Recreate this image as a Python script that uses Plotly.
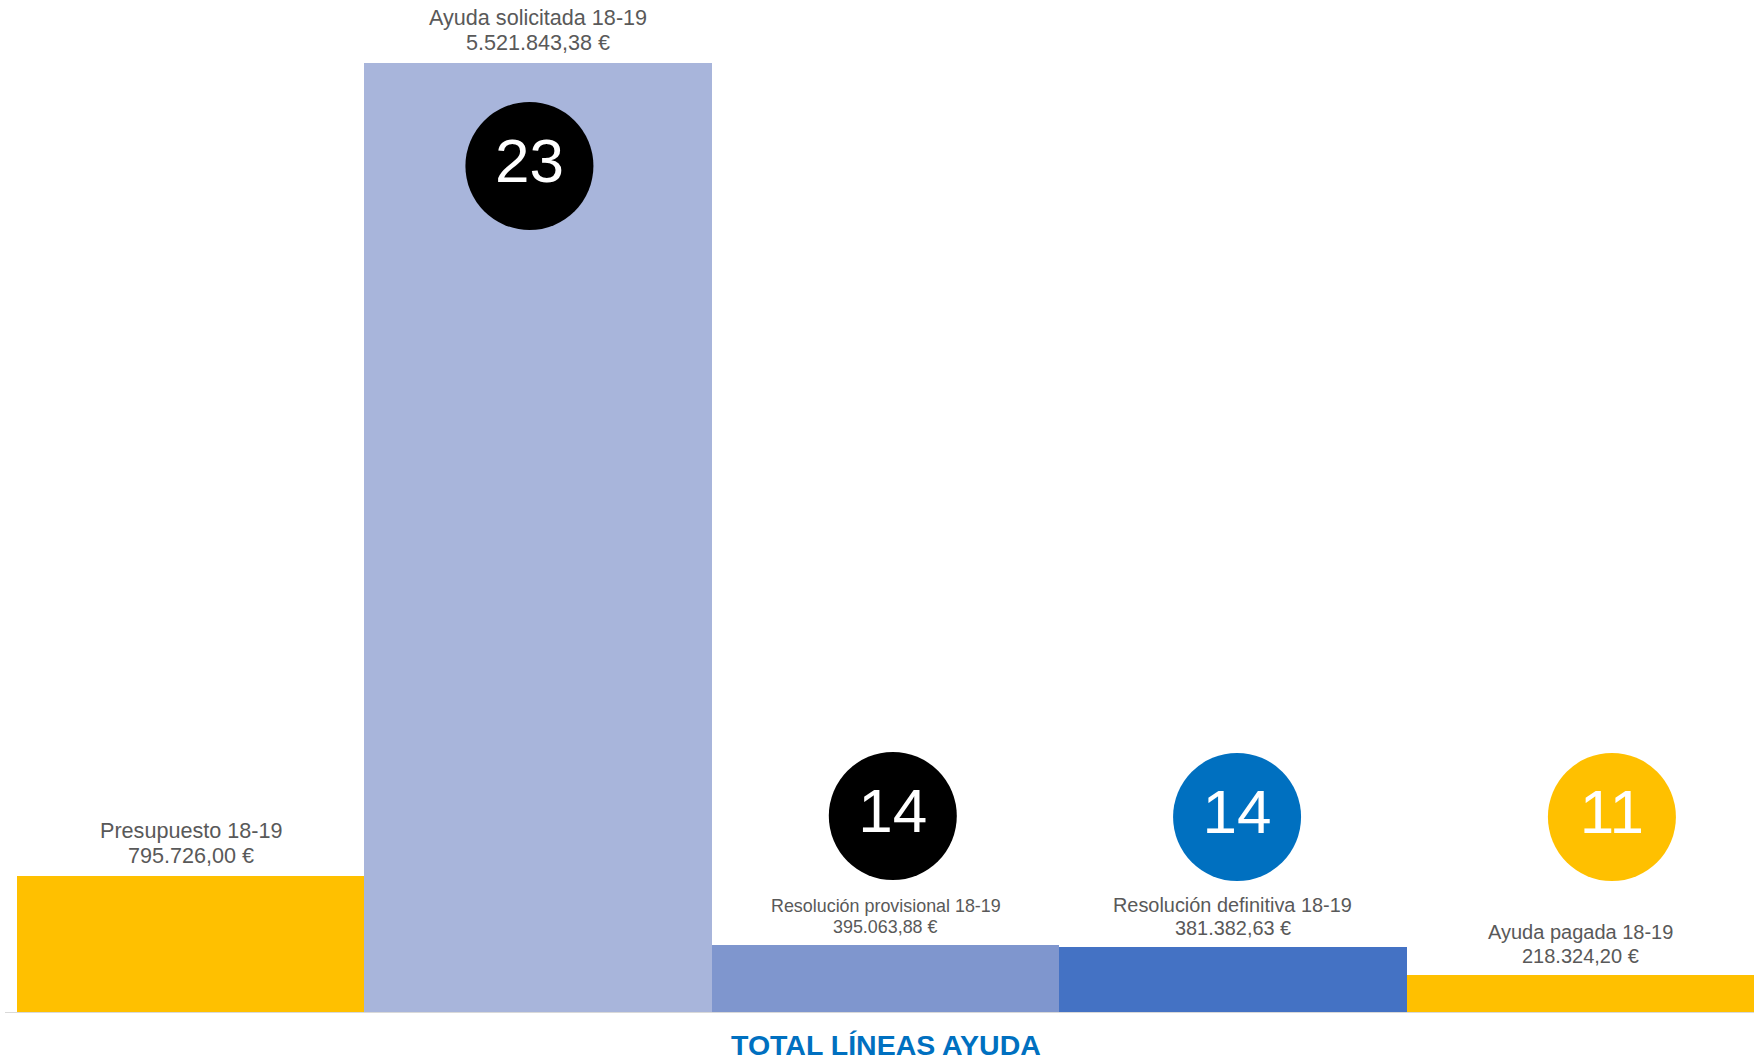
import plotly.graph_objects as go

# data
categories = ["Presupuesto 18-19", "Ayuda solicitada 18-19", "Resolución provisional 18-19",
              "Resolución definitiva 18-19", "Ayuda pagada 18-19"]
amounts = [795726.00, 5521843.38, 395063.88, 381382.63, 218324.20]
line_counts = [None, 23, 14, 14, 11]
axis_title = "TOTAL LÍNEAS AYUDA"

# styling
bar_colors = ["#FFC000", "#A8B5DB", "#7F96CE", "#4472C4", "#FFC000"]
circle_colors = [None, "#000000", "#000000", "#0070C0", "#FFC000"]
label_sizes = [21.6, 21.6, 17.9, 19.9, 20]
circle_dx = [0, -0.025, 0.021, 0.012, 0.091]   # offset from bar centre (bar widths)
circle_py = [None, 166, 816, 817, 817]          # circle centre, px from top
FONT = "Liberation Sans, Arial, sans-serif"

W, H = 1754, 1061
ML, MB = 17, 48
plot_h = H - MB
top_px = 63  # top of tallest bar
y_max = max(amounts) * plot_h / (plot_h - top_px)


def euro(v):
    s = f"{v:,.2f}".replace(",", "X").replace(".", ",").replace("X", ".")
    return s + " €"


xs = list(range(len(categories)))

fig = go.Figure()
fig.add_trace(go.Bar(
    x=xs, y=amounts, width=1,
    marker=dict(color=bar_colors, line=dict(width=0)),
    hoverinfo="skip", showlegend=False,
))

# numbered circles
cx, cy, ct, cc = [], [], [], []
for i, n in enumerate(line_counts):
    if n is None:
        continue
    cx.append(i + circle_dx[i])
    cy.append((plot_h - circle_py[i]) / plot_h * y_max)
    ct.append(str(n))
    cc.append(circle_colors[i])
fig.add_trace(go.Scatter(
    x=cx, y=cy, mode="markers+text", text=ct, textposition="middle center",
    marker=dict(size=128, color=cc, line=dict(width=0)),
    textfont=dict(family=FONT, size=62, color="white"),
    hoverinfo="skip", showlegend=False, cliponaxis=False,
))

# two-line labels above each bar (one annotation per line for tighter spacing)
for i, (cat, v) in enumerate(zip(categories, amounts)):
    size = label_sizes[i]
    for line, shift in ((cat, 6 + round(1.18 * size)), (euro(v), 6)):
        fig.add_annotation(
            x=i, y=v, xref="x", yref="y", yanchor="bottom", yshift=shift,
            text=line, showarrow=False,
            font=dict(family=FONT, size=size, color="#595959"),
        )

fig.add_annotation(
    x=0.5, y=(plot_h - 1045) / plot_h, xref="paper", yref="paper",
    yanchor="middle", text=f"<b>{axis_title}</b>", showarrow=False,
    font=dict(family=FONT, size=28.5, color="#0070C0"),
)

# baseline
fig.add_shape(type="line", xref="paper", yref="y", x0=(5 - ML) / (W - ML), x1=1,
              y0=0, y1=0, line=dict(color="#D9D9D9", width=2), layer="above")

fig.update_layout(
    width=W, height=H, autosize=False,
    margin=dict(l=ML, r=0, t=0, b=MB),
    paper_bgcolor="white", plot_bgcolor="white",
    bargap=0,
    xaxis=dict(range=[-0.5, len(categories) - 0.5], visible=False, fixedrange=True),
    yaxis=dict(range=[0, y_max], visible=False, fixedrange=True),
)

fig.write_html("out.html", config={"displayModeBar": False},
               post_script="document.body.style.margin = '0';")
